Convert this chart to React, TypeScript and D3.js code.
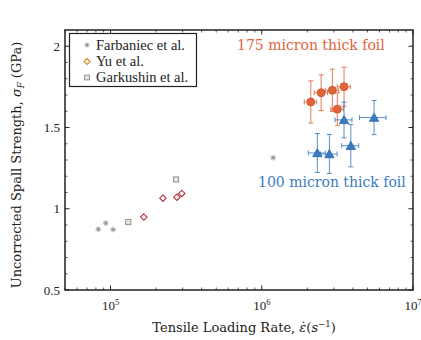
import React from "react";
import * as d3 from "d3";

const farbaniecX = [8.3e4, 9.3e4, 1.04e5, 1.19e6];
const farbaniecY = [0.874, 0.912, 0.872, 1.314];
const yuX = [1.66e5, 2.22e5, 2.75e5, 2.96e5];
const yuY = [0.949, 1.065, 1.071, 1.094];
const garkushinX = [1.31e5, 2.71e5];
const garkushinY = [0.918, 1.18];

const foil175X = [2.11e6, 2.47e6, 2.93e6, 3.5e6, 3.16e6];
const foil175Y = [1.657, 1.714, 1.729, 1.751, 1.613];
const foil175YErr = [0.13, 0.11, 0.13, 0.12, 0.1];
const foil175XErr = [0.2e6, 0.25e6, 0.3e6, 0.35e6, 0.3e6];

const foil100X = [2.33e6, 2.8e6, 3.5e6, 3.88e6, 5.53e6];
const foil100Y = [1.343, 1.337, 1.547, 1.388, 1.561];
const foil100YErr = [0.12, 0.12, 0.11, 0.13, 0.105];
const foil100XErr = [0.3e6, 0.35e6, 0.45e6, 0.5e6, 1.1e6];

const yTicks = [0.5, 1, 1.5, 2];
const yTickLabels = ["0.5", "1", "1.5", "2"];
const xTickExps = [5, 6, 7];
const legendLabels = ["Farbaniec et al.", "Yu et al.", "Garkushin et al."];

const ORANGE = "#e2653a";
const BLUE = "#3a7cc2";
const GRAY = "#8a8a8a";
const SERIF = "'Liberation Serif', 'Times New Roman', serif";
const CM = "'DejaVu Serif', serif";

export default function App() {
  const L = 65, R = 413, T = 30, B = 290;
  const x = d3.scaleLog().domain([5e4, 1e7]).range([L, R]);
  const y = d3.scaleLinear().domain([0.5, 2.1]).range([B, T]);

  const minorX: number[] = [];
  for (let e = 4; e < 7; e++) {
    for (let k = 2; k < 10; k++) {
      const v = k * Math.pow(10, e);
      if (v >= 5e4 && v <= 1e7) minorX.push(v);
    }
  }
  const minorY = d3.range(0.6, 2.1, 0.1).filter((v) => Math.abs(v * 2 - Math.round(v * 2)) > 1e-6);

  const star = (cx: number, cy: number, s: number, c: string, key: string) => (
    <g key={key} stroke={c} strokeWidth={0.9}>
      <line x1={cx - s} y1={cy} x2={cx + s} y2={cy} />
      <line x1={cx} y1={cy - s} x2={cx} y2={cy + s} />
      <line x1={cx - s * 0.7} y1={cy - s * 0.7} x2={cx + s * 0.7} y2={cy + s * 0.7} />
      <line x1={cx - s * 0.7} y1={cy + s * 0.7} x2={cx + s * 0.7} y2={cy - s * 0.7} />
    </g>
  );
  const diamond = (cx: number, cy: number, s: number, c: string, key: string) => (
    <path key={key} d={`M${cx},${cy - s}L${cx + s},${cy}L${cx},${cy + s}L${cx - s},${cy}Z`} fill="none" stroke={c} strokeWidth={1.1} />
  );
  const square = (cx: number, cy: number, s: number, c: string, key: string) => (
    <rect key={key} x={cx - s} y={cy - s} width={2 * s} height={2 * s} fill="#c9c9c0" fillOpacity={0.5} stroke={c} strokeWidth={0.9} />
  );
  const tri = d3.symbol().type(d3.symbolTriangle).size(38);
  const circ = d3.symbol().type(d3.symbolCircle).size(50);

  const errBars = (xs: number[], ys: number[], xe: number[], ye: number[], c: string, p: string) =>
    xs.map((xv, i) => {
      const cx = x(xv), cy = y(ys[i]);
      const y1 = y(ys[i] + ye[i]), y2 = y(ys[i] - ye[i]);
      const x1 = x(xv - xe[i]), x2 = x(xv + xe[i]);
      return (
        <g key={p + i} stroke={c} strokeWidth={1} opacity={0.85}>
          <line x1={cx} y1={y1} x2={cx} y2={y2} />
          <line x1={cx - 2.5} y1={y1} x2={cx + 2.5} y2={y1} />
          <line x1={cx - 2.5} y1={y2} x2={cx + 2.5} y2={y2} />
          <line x1={x1} y1={cy} x2={x2} y2={cy} />
          <line x1={x1} y1={cy - 2.5} x2={x1} y2={cy + 2.5} />
          <line x1={x2} y1={cy - 2.5} x2={x2} y2={cy + 2.5} />
        </g>
      );
    });

  return (
    <svg width={421} height={340} style={{ position: "absolute", left: 0, top: 0, background: "#fff" }}>
      <rect x={0} y={0} width={421} height={340} fill="#fff" />
      {/* minor ticks */}
      <g stroke="#333" strokeWidth={0.8}>
        {minorX.map((v, i) => (
          <g key={"mx" + i}>
            <line x1={x(v)} y1={B} x2={x(v)} y2={B - 2.5} />
            <line x1={x(v)} y1={T} x2={x(v)} y2={T + 2.5} />
          </g>
        ))}
        {minorY.map((v, i) => (
          <g key={"my" + i}>
            <line x1={L} y1={y(v)} x2={L + 2.5} y2={y(v)} />
            <line x1={R} y1={y(v)} x2={R - 2.5} y2={y(v)} />
          </g>
        ))}
      </g>
      {/* major ticks */}
      <g stroke="#222" strokeWidth={1}>
        {xTickExps.map((e) => (
          <g key={"tx" + e}>
            <line x1={x(Math.pow(10, e))} y1={B} x2={x(Math.pow(10, e))} y2={B - 4.5} />
            <line x1={x(Math.pow(10, e))} y1={T} x2={x(Math.pow(10, e))} y2={T + 4.5} />
          </g>
        ))}
        {yTicks.map((v) => (
          <g key={"ty" + v}>
            <line x1={L} y1={y(v)} x2={L + 4.5} y2={y(v)} />
            <line x1={R} y1={y(v)} x2={R - 4.5} y2={y(v)} />
          </g>
        ))}
      </g>
      {/* tick labels */}
      <g fontFamily={SERIF} fontSize={13} fill="#222">
        {yTicks.map((v, i) => (
          <text key={"yl" + v} x={L - 5} y={y(v) + 4.5} textAnchor="end">
            {yTickLabels[i]}
          </text>
        ))}
        {xTickExps.map((e) => (
          <text key={"xl" + e} x={x(Math.pow(10, e))} y={B + 20} textAnchor="middle">
            10<tspan dy={-5} fontSize={8.5}>{e}</tspan>
          </text>
        ))}
      </g>
      {/* axis labels */}
      <text x={244} y={332} textAnchor="middle" fontFamily={CM} fontSize={13} fill="#222">
        Tensile Loading Rate, <tspan fontStyle="italic">{"\u03B5\u0307"}</tspan>(<tspan fontStyle="italic">s</tspan>
        <tspan dy={-5} fontSize={8.5}>{"\u22121"}</tspan>
        <tspan dy={5}>)</tspan>
      </text>
      <text transform={`translate(21,${(T + B) / 2 + 5}) rotate(-90)`} textAnchor="middle" fontFamily={CM} fontSize={13} fill="#222">
        Uncorrected Spall Strength, <tspan fontStyle="italic">{"\u03C3"}</tspan>
        <tspan dy={3} fontSize={8.5} fontStyle="italic">F</tspan>
        <tspan dy={-3}> (GPa)</tspan>
      </text>
      {/* error bars */}
      {errBars(foil175X, foil175Y, foil175XErr, foil175YErr, ORANGE, "oe")}
      {errBars(foil100X, foil100Y, foil100XErr, foil100YErr, BLUE, "be")}
      {/* literature data */}
      {farbaniecX.map((v, i) => star(x(v), y(farbaniecY[i]), 2.8, GRAY, "f" + i))}
      {garkushinX.map((v, i) => square(x(v), y(garkushinY[i]), 2.6, GRAY, "g" + i))}
      {yuX.map((v, i) => diamond(x(v), y(yuY[i]), 3.2, "#b8343a", "y" + i))}
      {/* foil data */}
      {foil175X.map((v, i) => (
        <path key={"o" + i} d={circ() as string} transform={`translate(${x(v)},${y(foil175Y[i])})`} fill={ORANGE} stroke="#c8502a" strokeWidth={0.8} />
      ))}
      {foil100X.map((v, i) => (
        <path key={"b" + i} d={tri() as string} transform={`translate(${x(v)},${y(foil100Y[i]) + 1})`} fill={BLUE} stroke="#2a65a8" strokeWidth={0.8} />
      ))}
      {/* annotations */}
      <text x={237} y={50} fontFamily={CM} fontSize={14} fill={ORANGE}>175 micron thick foil</text>
      <text x={258} y={187} fontFamily={CM} fontSize={14} fill={BLUE}>100 micron thick foil</text>
      {/* legend */}
      <rect x={69.5} y={33.5} width={127} height={53} fill="#fff" stroke="#222" strokeWidth={1.2} />
      {star(87, 45, 2.5, GRAY, "ls")}
      {diamond(87, 61.5, 3, "#d08a2a", "ld")}
      {square(87, 77.5, 2.4, GRAY, "lq")}
      <g fontFamily={SERIF} fontSize={14.5} fill="#222">
        {legendLabels.map((t, i) => (
          <text key={t} x={96} y={50 + i * 16} textLength={i === 1 ? undefined : undefined}>{t}</text>
        ))}
      </g>
      {/* frame */}
      <rect x={L} y={T} width={R - L} height={B - T} fill="none" stroke="#222" strokeWidth={1.5} />
    </svg>
  );
}
